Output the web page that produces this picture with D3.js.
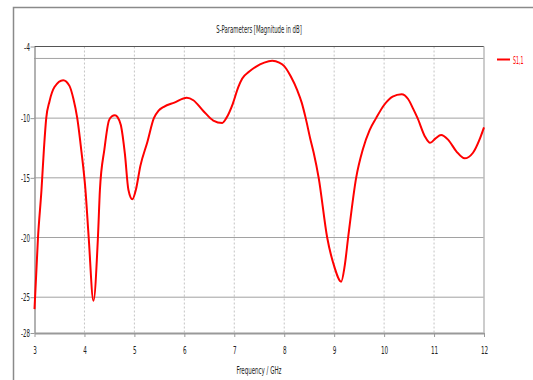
<!DOCTYPE html>
<html>
<head>
<meta charset="utf-8">
<script src="https://cdn.jsdelivr.net/npm/d3@7"></script>
<style>
  body { margin: 0; background: #fff; }
  text { font-family: "DejaVu Sans Condensed", "Liberation Sans Narrow", sans-serif; }
</style>
</head>
<body>
<script>
// données
const freq = [3.00, 3.07, 3.14, 3.19, 3.235, 3.30, 3.40, 3.575, 3.70, 3.78, 3.856, 3.94, 4.02, 4.085, 4.18, 4.27, 4.31, 4.40, 4.49, 4.55, 4.61, 4.66, 4.73, 4.81, 4.88, 4.96, 5.03, 5.12, 5.26, 5.39, 5.48, 5.59, 5.80, 6.05, 6.18, 6.38, 6.58, 6.76, 6.84, 6.97, 7.08, 7.16, 7.30, 7.43, 7.60, 7.76, 7.90, 8.00, 8.13, 8.26, 8.35, 8.43, 8.52, 8.59, 8.69, 8.86, 9.00, 9.14, 9.21, 9.28, 9.44, 9.575, 9.71, 9.84, 10.00, 10.17, 10.35, 10.48, 10.58, 10.67, 10.82, 10.92, 11.03, 11.14, 11.28, 11.45, 11.61, 11.78, 11.92, 12.00];
const s11 = [-26.0, -20.0, -16.0, -12.5, -10.0, -8.6, -7.4, -6.82, -7.3, -8.4, -10.0, -12.8, -16.0, -20.0, -25.3, -20.0, -16.0, -12.6, -10.2, -9.85, -9.75, -9.9, -10.6, -13.0, -16.0, -16.8, -16.0, -14.0, -12.0, -10.0, -9.4, -9.05, -8.7, -8.3, -8.5, -9.4, -10.2, -10.4, -10.0, -8.8, -7.4, -6.68, -6.1, -5.7, -5.35, -5.2, -5.35, -5.65, -6.5, -7.66, -8.7, -10.0, -11.7, -12.9, -15.0, -20.0, -22.4, -23.7, -22.4, -20.0, -15.0, -12.6, -11.0, -10.0, -8.9, -8.2, -8.0, -8.4, -9.2, -10.0, -11.56, -12.07, -11.7, -11.42, -11.8, -12.8, -13.37, -12.9, -11.7, -10.78];
const xTicks = [3, 4, 5, 6, 7, 8, 9, 10, 11, 12];
const yTicks = [-4, -10, -15, -20, -25, -28];
const yGrid = [-5, -10, -15, -20, -25];

const tableau = freq.map((f, i) => ({ f: f, db: s11[i] }));

let margin = { top: 46.5, right: 49, bottom: 47, left: 34.5 };
let width = 533 - margin.left - margin.right,
    height = 380 - margin.top - margin.bottom;

// police très étroite : on force la largeur du texte
function narrow(sel, perChar) {
    sel.each(function () {
        const t = d3.select(this);
        t.attr("textLength", t.text().length * perChar).attr("lengthAdjust", "spacingAndGlyphs");
    });
}

let root = d3.select("body").append("svg")
    .attr("width", 533)
    .attr("height", 380);

// cadre extérieur
root.append("path")
    .attr("d", "M13.5,380 V7.5 H533")
    .attr("fill", "none")
    .attr("stroke", "#8a8a8a")
    .attr("stroke-width", 1.5);

let svg = root.append("g")
    .attr("transform", "translate(" + margin.left + "," + margin.top + ")");

let x = d3.scaleLinear().domain([3, 12]).range([0, width]);
let y = d3.scaleLinear().domain([-4, -28]).range([0, height]);

// grille verticale
svg.append("g")
    .selectAll("line")
    .data(xTicks.slice(1, -1))
    .enter().append("line")
    .attr("x1", d => x(d)).attr("x2", d => x(d))
    .attr("y1", 0).attr("y2", height)
    .attr("stroke", "#c4c4c4")
    .attr("stroke-dasharray", "2,2");

// grille horizontale
svg.append("g")
    .selectAll("line")
    .data(yGrid)
    .enter().append("line")
    .attr("x1", 0).attr("x2", width)
    .attr("y1", d => y(d)).attr("y2", d => y(d))
    .attr("stroke", "#444")
    .attr("stroke-dasharray", "1,1");

// axes
svg.append("g")
    .attr("transform", "translate(0," + height + ")")
    .call(d3.axisBottom(x).tickValues(xTicks).tickFormat(d => d).tickSize(4).tickSizeOuter(0))
    .call(g => g.select(".domain").attr("stroke", "#999").attr("stroke-width", 2))
    .call(g => g.selectAll(".tick line").attr("stroke", "#999"))
    .call(g => g.selectAll("text").attr("y", 13).attr("dy", "0.71em")
        .style("font-size", "11px").attr("fill", "#222").call(narrow, 3.6));

svg.append("g")
    .call(d3.axisLeft(y).tickValues(yTicks).tickFormat(d => d).tickSize(4).tickSizeOuter(0))
    .call(g => g.select(".domain").attr("stroke", "#999").attr("stroke-width", 1.5))
    .call(g => g.selectAll(".tick line").attr("stroke", "#999"))
    .call(g => g.selectAll("text").attr("x", -4.5)
        .style("font-size", "11px").attr("fill", "#222").call(narrow, 3.0));

svg.append("line")
    .attr("x1", 0).attr("x2", width).attr("y1", 0).attr("y2", 0)
    .attr("stroke", "#555").attr("stroke-width", 1.2);
svg.append("line")
    .attr("x1", width).attr("x2", width).attr("y1", 0).attr("y2", height)
    .attr("stroke", "#bbb").attr("stroke-width", 1.5);

// la courbe
svg.append("path")
    .datum(tableau)
    .attr("fill", "none")
    .attr("stroke", "#ff0000")
    .attr("stroke-width", 2)
    .attr("d", d3.line()
        .x(d => x(d.f))
        .y(d => y(d.db))
        .curve(d3.curveMonotoneX));

// titres
root.append("text")
    .text("S-Parameters [Magnitude in dB]")
    .attr("x", 259).attr("y", 33)
    .attr("text-anchor", "middle")
    .style("font-size", "11px")
    .style("fill", "#222")
    .call(narrow, 2.85);

root.append("text")
    .text("Frequency / GHz")
    .attr("x", 259).attr("y", 374)
    .attr("text-anchor", "middle")
    .style("font-size", "11px")
    .style("fill", "#222")
    .call(narrow, 3.0);

// légende
root.append("line")
    .attr("x1", 497).attr("x2", 510).attr("y1", 59.5).attr("y2", 59.5)
    .attr("stroke", "#ff0000").attr("stroke-width", 2);
root.append("text")
    .text("S1,1")
    .attr("x", 513).attr("y", 64)
    .style("font-size", "11px")
    .style("fill", "#ff0000")
    .call(narrow, 2.6);
</script>
</body>
</html>
